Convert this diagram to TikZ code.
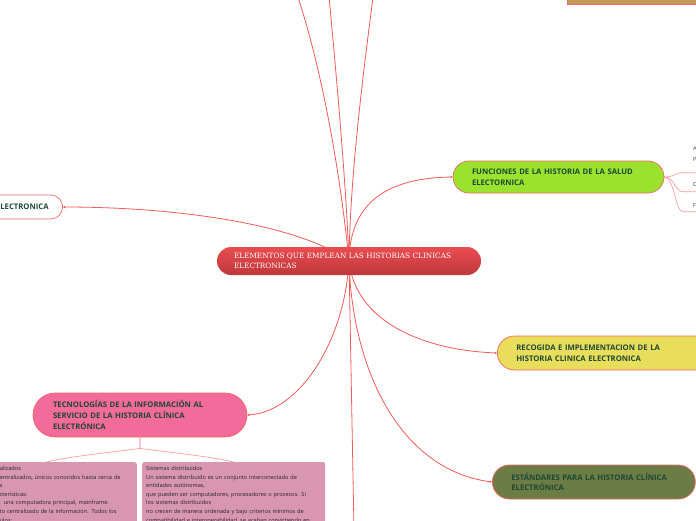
\documentclass[tikz,border=0pt]{standalone}
\usepackage{fontspec}
\usepackage{xcolor}
\usepackage{tikz}
\usetikzlibrary{arrows.meta,positioning,backgrounds}
\newfontfamily\topicfont{Open Sans}
\newfontfamily\rootfont{DejaVu Serif}
\definecolor{linkred}{HTML}{F05A5A}
\definecolor{sublinkred}{HTML}{F5A0A0}
\definecolor{edgered}{HTML}{F26666}
\definecolor{rootlight}{HTML}{EA4C50}
\definecolor{rootdark}{HTML}{BE383B}
\definecolor{topictext}{HTML}{1F4733}
\definecolor{topicgreen}{HTML}{9BE22E}
\definecolor{topicyellow}{HTML}{E9DE5B}
\definecolor{topicolive}{HTML}{6B7C45}
\definecolor{topicpink}{HTML}{F26B9B}
\definecolor{topicbrown}{HTML}{C4975A}
\definecolor{notepink}{HTML}{D896B0}

\begin{document}
\begin{tikzpicture}[
  x=1pt, y=-1pt,
  every node/.style={inner sep=0pt},
  root/.style={top color=rootlight, bottom color=rootdark, rounded corners=14pt,
               minimum height=28pt, text width=230pt, inner xsep=17pt,
               align=left, text=white,
               font=\rootfont\fontsize{7.3}{10}\selectfont},
  topic/.style={draw=edgered, line width=0.7pt, align=left,
                inner xsep=19pt, text=topictext,
                font=\topicfont\bfseries\fontsize{7.7}{10.8}\selectfont},
  note/.style={fill=notepink, rounded corners=2pt, align=left,
               inner xsep=4pt, inner ysep=4pt, anchor=north west,
               text=black!85,
               font=\topicfont\fontsize{5.6}{8.6}\selectfont},
  leaf/.style={align=left, inner xsep=10pt, inner ysep=5pt, anchor=south west,
               text width=20pt, text=black!75,
               font=\topicfont\fontsize{5.6}{11}\selectfont},
  link/.style={draw=linkred, line width=0.8pt, -{Stealth[length=2.5pt,width=2.5pt]}},
  sublink/.style={draw=sublinkred, line width=0.7pt},
]
\useasboundingbox (0,0) rectangle (696,520);
\clip (0,0) rectangle (696,520);
% central topic
\node[root] (root) at (349,261)
   {ELEMENTOS QUE EMPLEAN LAS HISTORIAS CLINICAS\\ELECTRONICAS};
% main topics
\node[topic, fill=topicgreen, rounded corners=16pt, minimum height=32pt,
      text width=173pt] (funciones) at (558.5,177)
   {FUNCIONES DE LA HISTORIA DE LA SALUD\\ELECTORNICA};
\node[topic, fill=white, rounded corners=12pt, minimum height=24pt,
      text width=120pt, align=right, inner xsep=14pt, anchor=east] (electronica) at (63,207)
   {ELECTRONICA};
\node[topic, fill=topicyellow, rounded corners=17pt, minimum height=34pt,
      text width=185pt, anchor=west] (recogida) at (497,353)
   {RECOGIDA E IMPLEMENTACION DE LA\\HISTORIA CLINICA ELECTRONICA};
\node[topic, fill=topicolive, rounded corners=17pt, minimum height=34pt,
      text width=165pt, anchor=west] (estandares) at (492,482)
   {ESTÁNDARES PARA LA HISTORIA CLÍNICA\\ELECTRÓNICA};
\node[topic, fill=topicpink, rounded corners=22pt, minimum height=44pt,
      text width=174pt, inner xsep=20pt] (tecnologias) at (140,415)
   {TECNOLOGÍAS DE LA INFORMACIÓN AL\\SERVICIO DE LA HISTORIA CLÍNICA\\ELECTRÓNICA};
\node[draw=edgered, line width=1.2pt, fill=topicbrown, minimum width=140pt,
      minimum height=30pt, anchor=south west] (arriba) at (567,5) {};
% free ends outside the frame
\coordinate (top1) at (290,-25);
\coordinate (top2) at (327,-25);
\coordinate (top3) at (376,-25);
\coordinate (abajo) at (354,530);
% subtopics of funciones
\node[leaf, inner ysep=11pt] (leafa) at (683,172.7) {A\\P};
\node[leaf] (leafd) at (683,191.7) {D};
\node[leaf, inner ysep=4.5pt] (leaff) at (683,211.7) {F};
% notes under tecnologias
\node[note, anchor=north east, text width=133pt] (centralizados) at (137,462)
   {alizados\\
    entralizados, únicos conocidos hasta cerca de\\
    s\\
    cterísticas:\\
    \hspace*{4pt}una computadora principal, mainframe.\\
    to centralizado de la información. Todos los\\
    ulos:};
\node[note, text width=175pt] (distribuidos) at (142,462)
   {Sistemas distribuidos\\
    Un sistema distribuido es un conjunto interconectado de\\
    entidades autónomas,\\
    que pueden ser computadores, procesadores o procesos. Si\\
    los sistemas distribuidos\\
    no crecen de manera ordenada y bajo criterios mínimos de\\
    compatibilidad e interoperabilidad, se acaban convirtiendo en};
% connectors
\begin{scope}[on background layer]
\fill[white] (0,0) rectangle (696,520);
\draw[link] (root.center) .. controls (338,150) and (315,40) .. (top1);
\draw[link] (root.center) .. controls (346,180) and (335,60) .. (top2);
\draw[link] (root.center) .. controls (350,180) and (362,80) .. (top3);
\draw[link] (root.center) .. controls (300,225) and (180,207) .. (electronica.east);
\draw[link] (root.center) .. controls (350,200) and (390,178) .. (funciones.west);
\draw[link] (root.center) .. controls (355,320) and (420,350) .. (recogida.west);
\draw[link] (root.center) .. controls (345,340) and (300,412) .. (tecnologias.east);
\draw[link] (root.center) .. controls (352,370) and (400,470) .. (estandares.west);
\draw[link] (root.center) -- (abajo);
\draw[sublink] (funciones.east) .. controls +(10,0) and +(-8,0) .. (leafa.south west) -- (leafa.south east);
\draw[sublink] (funciones.east) .. controls +(10,0) and +(-8,0) .. (leafd.south west) -- (leafd.south east);
\draw[sublink] (funciones.east) .. controls +(10,0) and +(-8,0) .. (leaff.south west) -- (leaff.south east);
\draw[sublink] (tecnologias.south) -- ++(0,11) .. controls +(-20,3) and +(25,-6) .. ([xshift=-20pt]centralizados.north);
\draw[sublink] (tecnologias.south) -- ++(0,11) .. controls +(20,3) and +(-25,-6) .. (distribuidos.north);
\end{scope}
\end{tikzpicture}
\end{document}
